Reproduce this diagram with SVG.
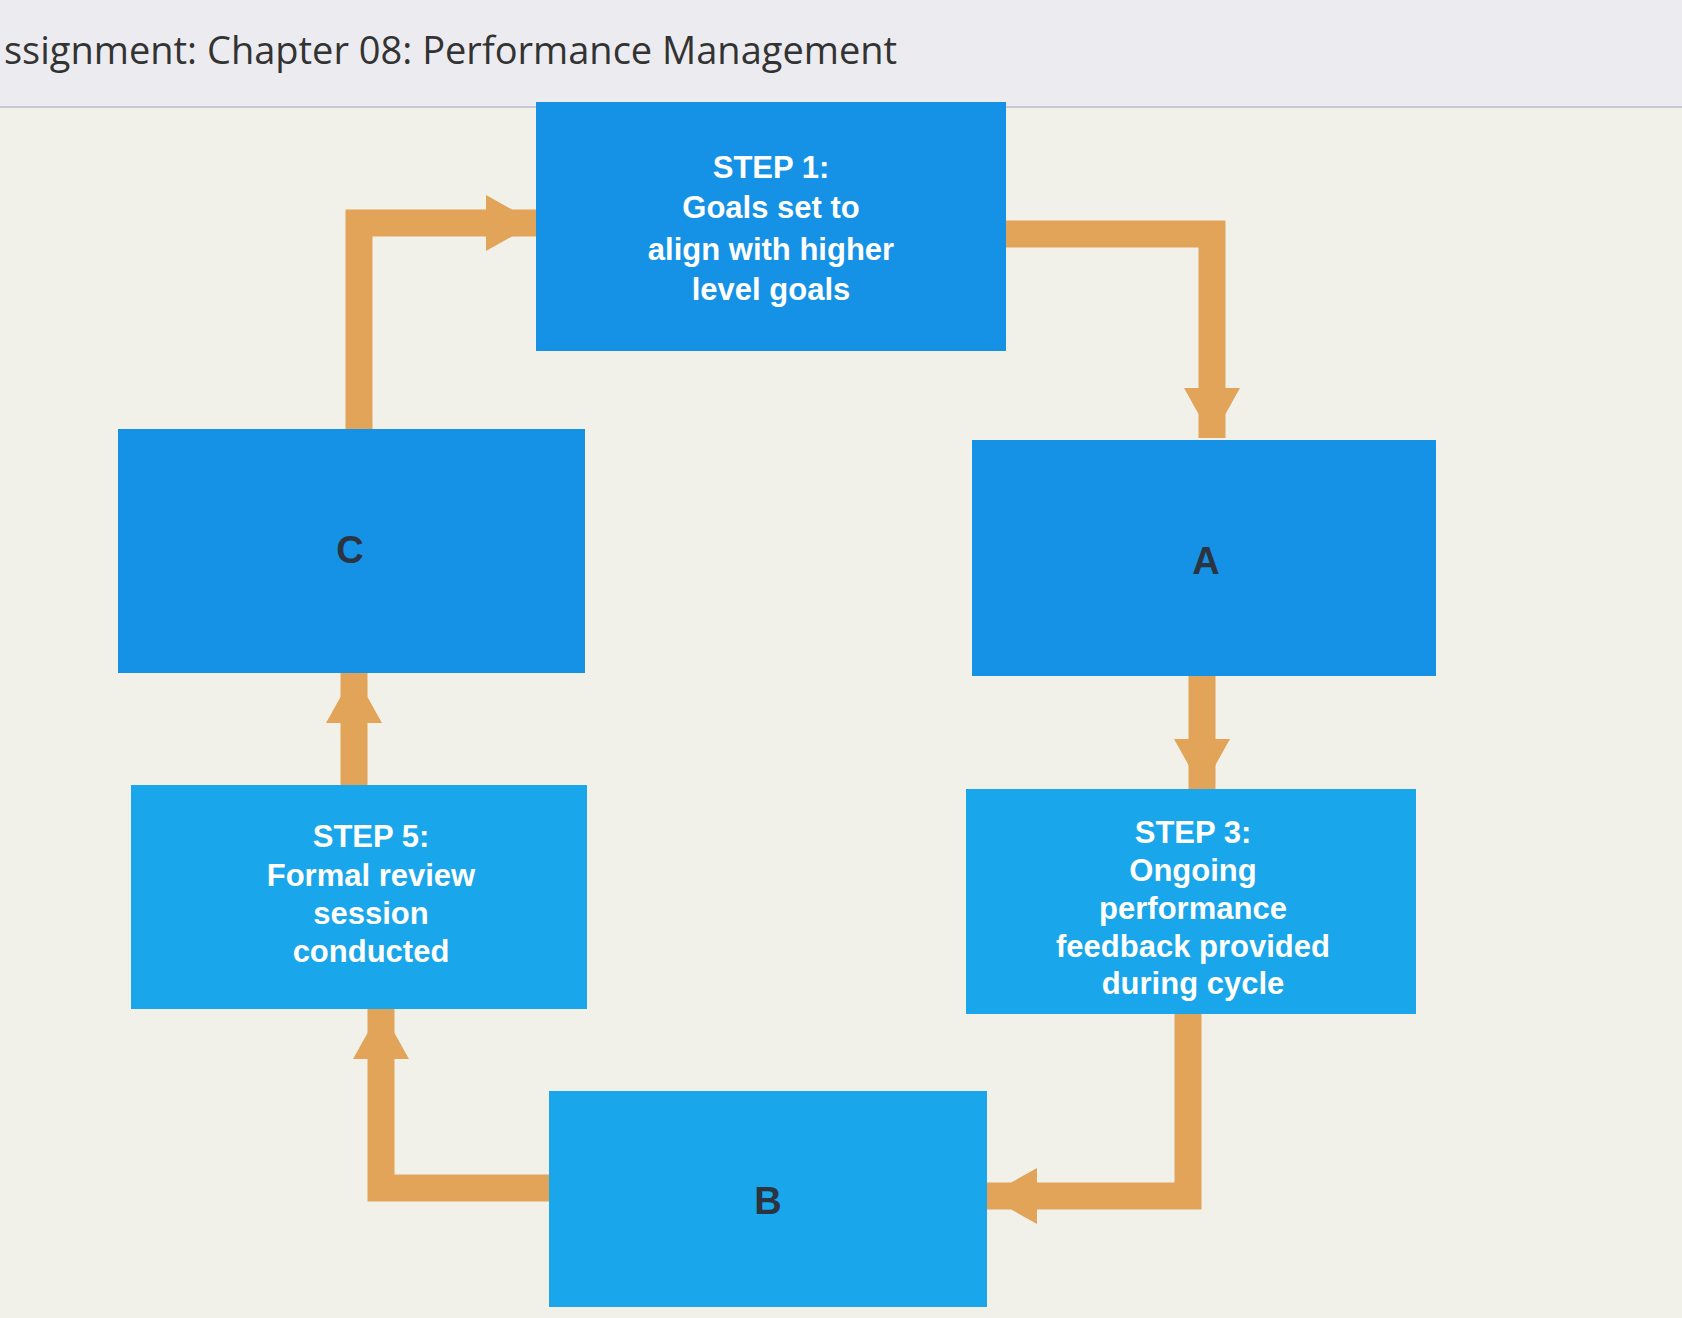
<svg xmlns="http://www.w3.org/2000/svg" width="1682" height="1318" viewBox="0 0 1682 1318">
<style>
.box{fill:#1592e6}
.box2{fill:#1aa6ea}
.t{font-family:"Liberation Sans",Arial,sans-serif;font-weight:bold;font-size:31px;fill:#fff;text-anchor:middle}
.l{font-family:"Liberation Sans",Arial,sans-serif;font-weight:bold;font-size:38px;fill:#2b3440;text-anchor:middle}
.c{fill:none;stroke:#e2a458;stroke-width:27;marker-end:url(#ah)}
</style>
<defs>
<marker id="ah" markerUnits="userSpaceOnUse" markerWidth="60" markerHeight="60" refX="50" refY="30" orient="auto" viewBox="0 0 60 60">
<polygon points="0,2 50,30 0,58" fill="#e2a458"/>
</marker>
</defs>
<rect width="1682" height="1318" fill="#f1f1ea"/>
<rect width="1682" height="107" fill="#ececf0"/>
<line x1="0" y1="107" x2="1682" y2="107" stroke="#c8c8d0" stroke-width="2"/>
<text x="4" y="64" font-family="Open Sans,'Liberation Sans',sans-serif" font-size="38" fill="#333">ssignment: Chapter 08: Performance Management</text>
<g id="connectors">
<path class="c" d="M359 429 V223 H536"/>
<path class="c" d="M1006 234 H1212 V438"/>
<path class="c" d="M1202 676 V789"/>
<path class="c" d="M1188 1014 V1196 H987"/>
<path class="c" d="M549 1188 H381 V1009"/>
<path class="c" d="M354 785 V673"/>
</g>
<g id="step1"><rect class="box" x="536" y="102" width="470" height="249"/>
<text class="t" x="771" y="178">STEP 1:</text><text class="t" x="771" y="218">Goals set to</text><text class="t" x="771" y="260">align with higher</text><text class="t" x="771" y="300">level goals</text></g>
<g id="C"><rect class="box" x="118" y="429" width="467" height="244"/><text class="l" x="350" y="563">C</text></g>
<g id="A"><rect class="box" x="972" y="440" width="464" height="236"/><text class="l" x="1206" y="574">A</text></g>
<g id="step5"><rect class="box2" x="131" y="785" width="456" height="224"/>
<text class="t" x="371" y="847">STEP 5:</text><text class="t" x="371" y="886">Formal review</text><text class="t" x="371" y="924">session</text><text class="t" x="371" y="962">conducted</text></g>
<g id="step3"><rect class="box2" x="966" y="789" width="450" height="225"/>
<text class="t" x="1193" y="843">STEP 3:</text><text class="t" x="1193" y="881">Ongoing</text><text class="t" x="1193" y="919">performance</text><text class="t" x="1193" y="957">feedback provided</text><text class="t" x="1193" y="994">during cycle</text></g>
<g id="B"><rect class="box2" x="549" y="1091" width="438" height="216"/><text class="l" x="768" y="1214">B</text></g>
</svg>
